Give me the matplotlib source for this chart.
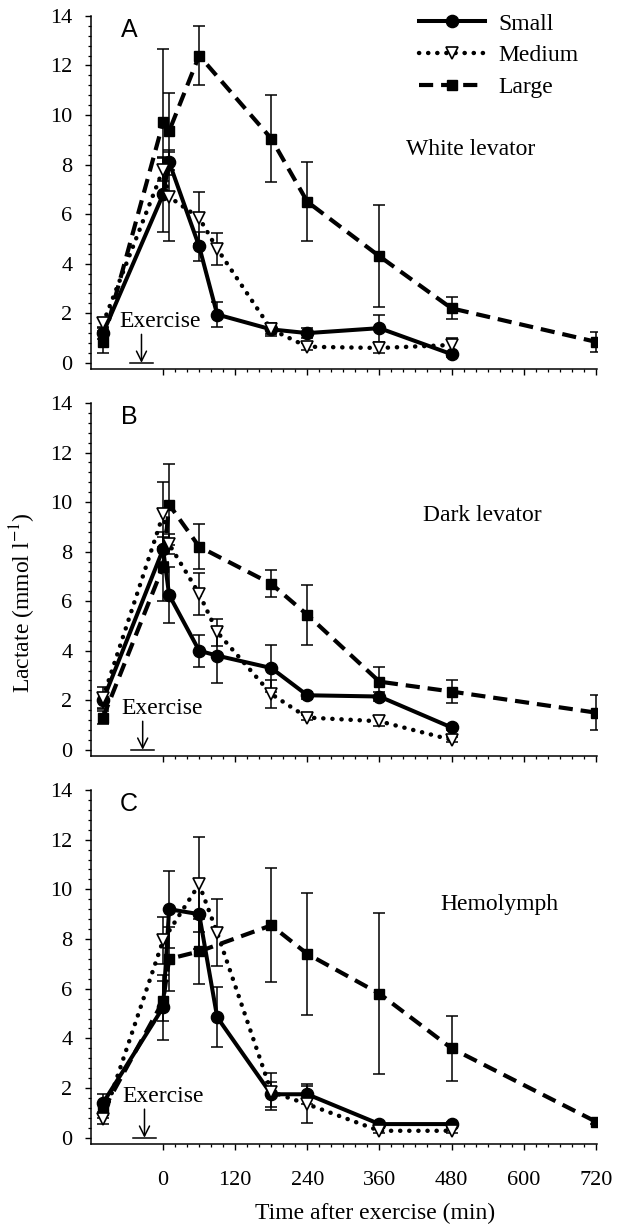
import matplotlib
matplotlib.use('Agg')
import matplotlib.pyplot as plt
from matplotlib.ticker import FixedLocator, MultipleLocator

plt.rcParams.update({
    'font.family': 'Liberation Serif',
    'font.size': 16,
    'mathtext.fontset': 'stix',
    'axes.linewidth': 1.1,
})

# ── data (lactate, mmol/l; time in min, pre-exercise plotted at -100) ─────────
t_all = [-100, 0, 10, 60, 90, 180, 240, 360, 480]
t_large = [-100, 0, 10, 60, 180, 240, 360, 480, 720]
t_med_c = [-100, 0, 60, 90, 180, 240, 360, 480]

# A  White levator
a_small = [1.2, 6.8, 8.1, 4.7, 1.95, 1.35, 1.2, 1.4, 0.35]
a_small_err = [0.25, 1.5, 0.5, 0.6, 0.5, 0.2, 0.2, 0.55, 0.1]
a_medium = [1.6, 7.8, 6.7, 5.85, 4.6, 1.35, 0.65, 0.6, 0.72]
a_medium_err = [0.2, 0.45, 1.8, 1.05, 0.65, 0.25, 0.15, 0.2, 0.3]
a_large = [0.85, 9.7, 9.35, 12.4, 9.05, 6.5, 4.3, 2.2, 0.85]
a_large_err = [0.45, 2.95, 1.55, 1.2, 1.75, 1.6, 2.05, 0.45, 0.4]

# B  Dark levator
b_small = [2.0, 8.1, 6.25, 4.0, 3.8, 3.3, 2.2, 2.15, 0.9]
b_small_err = [0.3, 0.5, 1.15, 0.65, 1.1, 0.95, 0.15, 0.2, 0.1]
b_medium = [2.1, 9.5, 8.3, 6.3, 4.75, 2.25, 1.3, 1.15, 0.4]
b_medium_err = [0.45, 1.3, 0.4, 0.85, 0.55, 0.55, 0.1, 0.2, 0.1]
b_large = [1.3, 7.4, 9.9, 8.2, 6.7, 5.45, 2.75, 2.35, 1.5]
b_large_err = [0.25, 1.4, 1.65, 0.9, 0.55, 1.2, 0.6, 0.45, 0.7]

# C  Hemolymph
c_small = [1.4, 5.25, 9.2, 9.0, 4.85, 1.75, 1.75, 0.55, 0.55]
c_small_err = [0.35, 1.3, 1.55, 1.4, 1.2, 0.5, 0.4, 0.1, 0.1]
c_medium = [0.75, 7.95, 10.2, 8.25, 1.85, 1.35, 0.28, 0.28]
c_medium_err = [0.2, 0.95, 1.9, 1.35, 0.75, 0.75, 0.1, 0.1]
c_large = [1.1, 5.5, 7.2, 7.5, 8.55, 7.4, 5.8, 3.6, 0.65]
c_large_err = [0.3, 0.8, 1.3, 1.3, 2.3, 2.45, 3.25, 1.3, 0.1]

panels = [
    ('A', 'White levator', (511, 8.6),
     (t_all, a_small, a_small_err), (t_all, a_medium, a_medium_err), (t_large, a_large, a_large_err)),
    ('B', 'Dark levator', (531, 9.47),
     (t_all, b_small, b_small_err), (t_all, b_medium, b_medium_err), (t_large, b_large, b_large_err)),
    ('C', 'Hemolymph', (560, 9.37),
     (t_all, c_small, c_small_err), (t_med_c, c_medium, c_medium_err), (t_large, c_large, c_large_err)),
]
# axes rectangles [left, bottom, width, height] in figure fraction
rects = [
    [0.1475, 0.6985, 0.8200, 0.2885],
    [0.1475, 0.3824, 0.8200, 0.2883],
    [0.1475, 0.0654, 0.8200, 0.2892],
]
ex_x = [-36, -34, -31]

styles = {
    'Small':  dict(color='black', lw=2.9, ls='-', marker='o', ms=8.8, mfc='black', mec='black'),
    'Medium': dict(color='black', lw=3.2, ls=(0, (0.05, 2.0)), marker='v', ms=9, mfc='white',
                   mec='black', mew=1.2, dash_capstyle='round'),
    'Large':  dict(color='black', lw=3.0, ls=(0, (3.4, 1.9)), marker='s', ms=7.4, mfc='black', mec='black'),
}

fig = plt.figure(figsize=(6.17, 12.24), dpi=100)
handles = {}
for i, (letter, title, tpos, small, medium, large) in enumerate(panels):
    ax = fig.add_axes(rects[i])
    for name, (t, y, e), z in [('Small', small, 3), ('Large', large, 4), ('Medium', medium, 5)]:
        ax.errorbar(t, y, yerr=e, fmt='none', ecolor='black', elinewidth=1.1,
                    capsize=4, capthick=1.1, zorder=z - 1)
        ln, = ax.plot(t, y, label=name, zorder=z, **styles[name])
        handles[name] = ln

    ax.set_xlim(-120, 722)
    ax.set_ylim(-0.25, 14)
    ax.spines['top'].set_visible(False)
    ax.spines['right'].set_visible(False)
    ax.yaxis.set_major_locator(MultipleLocator(2))
    ax.yaxis.set_minor_locator(MultipleLocator(0.4))
    ax.xaxis.set_major_locator(FixedLocator(range(0, 721, 120)))
    ax.xaxis.set_minor_locator(FixedLocator(range(0, 721, 20)))
    ax.tick_params(axis='both', which='major', direction='out', length=4.5, width=1.0,
                   labelsize=16)
    ax.tick_params(axis='both', which='minor', direction='out', length=2.5, width=0.9)
    ax.tick_params(axis='y', pad=9)
    ax.tick_params(axis='x', pad=15)
    if i < 2:
        ax.tick_params(axis='x', labelbottom=False)

    ax.text(-57, 13.45, letter, family='Liberation Sans', fontsize=18, ha='center', va='center')
    ax.text(tpos[0], tpos[1], title, fontsize=17, ha='center', va='center')

    # exercise marker
    x0 = ex_x[i]
    ax.text(x0 - 36, 1.65, 'Exercise', fontsize=17, ha='left', va='center')
    ax.annotate('', xy=(x0, 0), xytext=(x0, 1.15),
                arrowprops=dict(arrowstyle='->', lw=1.1, color='black', mutation_scale=18,
                                shrinkA=0, shrinkB=0))
    ax.plot([x0 - 19, x0 + 19], [0, 0], color='black', lw=1.1)

fig.legend([handles['Small'], handles['Medium'], handles['Large']],
           ['Small', 'Medium', 'Large'], loc='upper left',
           bbox_to_anchor=(419 / 617, 1 - 13 / 1224), frameon=False, fontsize=17,
           handlelength=2.8, handletextpad=0.55, labelspacing=0.43,
           borderpad=0, borderaxespad=0, numpoints=1)

fig.text(23 / 617, 1 - 603 / 1224, r'Lactate (mmol l$^{-1}$)', rotation=90,
         ha='center', va='center', fontsize=17)
fig.text(375 / 617, 1 - 1213 / 1224, 'Time after exercise (min)',
         ha='center', va='center', fontsize=17)

fig.savefig('out.png', dpi=100)
